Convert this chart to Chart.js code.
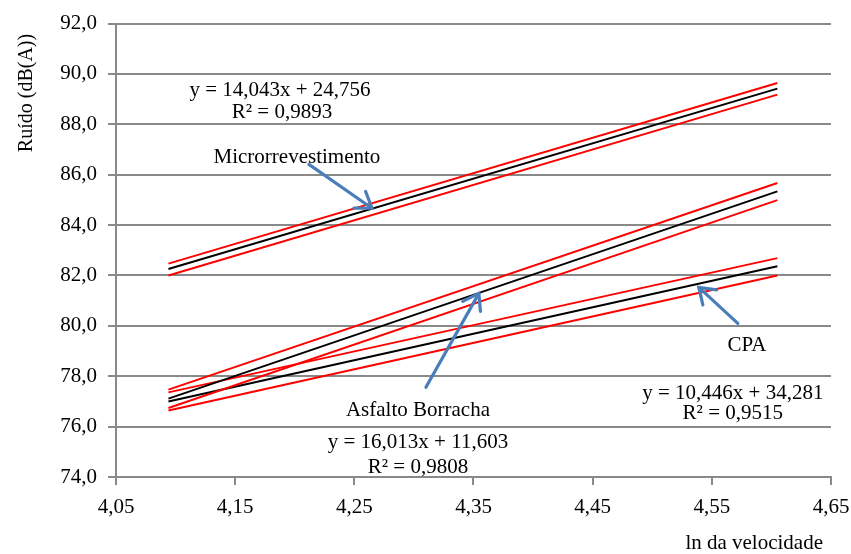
<!DOCTYPE html>
<html>
<head>
<meta charset="utf-8">
<script src="https://cdn.jsdelivr.net/npm/chart.js@4/dist/chart.umd.min.js"></script>
<style>
html,body{margin:0;padding:0;background:#fff;}
#wrap{width:851px;height:554px;}
</style>
</head>
<body>
<div id="wrap"><canvas id="c" width="851" height="554"></canvas></div>
<script>
// ---- data ----
const xEnds = [4.094, 4.605];                 // ln(60), ln(100)
const microFit   = [82.26, 89.42];
const microUpper = [82.47, 89.64];
const microLower = [82.00, 89.18];
const asfaltoFit   = [77.11, 85.34];
const asfaltoUpper = [77.47, 85.67];
const asfaltoLower = [76.74, 84.99];
const cpaFit   = [77.00, 82.37];
const cpaUpper = [77.36, 82.69];
const cpaLower = [76.64, 82.00];
const xTickValues = [4.05, 4.15, 4.25, 4.35, 4.45, 4.55, 4.65];
const yTickValues = [74, 76, 78, 80, 82, 84, 86, 88, 90, 92];
const yTitle = 'Ruído (dB(A))';
const xTitle = 'ln da velocidade';

// text annotations [text, x, y]
const labels = [
  ['y = 14,043x + 24,756', 4.1876, 89.35],
  ['R² = 0,9893', 4.1893, 88.48],
  ['Microrrevestimento', 4.2018, 86.69],
  ['Asfalto Borracha', 4.3034, 76.65],
  ['y = 16,013x + 11,603', 4.3034, 75.38],
  ['R² = 0,9808', 4.3034, 74.39],
  ['CPA', 4.5794, 79.24],
  ['y = 10,446x + 34,281', 4.5676, 77.33],
  ['R² = 0,9515', 4.5676, 76.53]
];
// arrows [x0, y0, xTip, yTip]
const arrows = [
  [4.2119, 86.41, 4.2648, 84.67],
  [4.3101, 77.56, 4.3545, 81.29],
  [4.5718, 80.10, 4.5391, 81.53]
];

const pts = ys => xEnds.map((x, i) => ({x: x, y: ys[i]}));
const FONT = 'Liberation Serif, Times New Roman, serif';
const GRID = '#898989';

function ds(ys, color) {
  return {data: pts(ys), borderColor: color, backgroundColor: color, borderWidth: 2,
          showLine: true, pointRadius: 0, fill: false, tension: 0};
}

const annot = {
  id: 'annot',
  afterDraw(chart) {
    const ctx = chart.ctx, xs = chart.scales.x, ys = chart.scales.y;
    ctx.save();
    ctx.fillStyle = '#000';
    ctx.font = '21px ' + FONT;
    ctx.textAlign = 'center';
    ctx.textBaseline = 'middle';
    labels.forEach(l => ctx.fillText(l[0], xs.getPixelForValue(l[1]), ys.getPixelForValue(l[2])));
    ctx.textAlign = 'right';
    ctx.fillText(xTitle, 823, 543);
    // axis title (y)
    ctx.save();
    ctx.font = '20px ' + FONT;
    ctx.textAlign = 'center';
    ctx.translate(27, 93);
    ctx.rotate(-Math.PI / 2);
    ctx.fillText(yTitle, 0, 0);
    ctx.restore();
    // arrows
    ctx.strokeStyle = '#4A7EBB';
    ctx.lineWidth = 3.2;
    ctx.lineCap = 'round';
    arrows.forEach(a => {
      const x0 = xs.getPixelForValue(a[0]), y0 = ys.getPixelForValue(a[1]);
      const x1 = xs.getPixelForValue(a[2]), y1 = ys.getPixelForValue(a[3]);
      ctx.beginPath(); ctx.moveTo(x0, y0); ctx.lineTo(x1, y1); ctx.stroke();
      const ang = Math.atan2(y0 - y1, x0 - x1), L = 18, d = 0.6;
      ctx.beginPath();
      ctx.moveTo(x1 + L * Math.cos(ang + d), y1 + L * Math.sin(ang + d));
      ctx.lineTo(x1, y1);
      ctx.lineTo(x1 + L * Math.cos(ang - d), y1 + L * Math.sin(ang - d));
      ctx.stroke();
    });
    ctx.restore();
  }
};

new Chart(document.getElementById('c'), {
  type: 'scatter',
  data: {
    datasets: [
      ds(microUpper, '#ff0000'), ds(microLower, '#ff0000'), ds(microFit, '#000000'),
      ds(asfaltoUpper, '#ff0000'), ds(asfaltoLower, '#ff0000'), ds(asfaltoFit, '#000000'),
      ds(cpaUpper, '#ff0000'), ds(cpaLower, '#ff0000'), ds(cpaFit, '#000000')
    ]
  },
  options: {
    responsive: false,
    animation: false,
    layout: {padding: {top: 23, right: 0, left: 0, bottom: 0}},
    plugins: {legend: {display: false}, tooltip: {enabled: false}},
    scales: {
      x: {
        type: 'linear', min: 4.05, max: 4.65,
        afterBuildTicks: s => { s.ticks = xTickValues.map(v => ({value: v})); },
        afterFit: s => { s.height = 77; s.paddingRight = 20; },
        grid: {drawOnChartArea: false, drawTicks: true, tickLength: 8, color: GRID, lineWidth: 2},
        border: {color: GRID, width: 2},
        ticks: {color: '#000', font: {family: FONT, size: 21}, padding: 10,
                callback: v => v.toFixed(2).replace('.', ',')}
      },
      y: {
        type: 'linear', min: 74, max: 92,
        afterBuildTicks: s => { s.ticks = yTickValues.map(v => ({value: v})); },
        afterFit: s => { s.width = 116; },
        grid: {drawOnChartArea: true, drawTicks: true, tickLength: 8, color: GRID, lineWidth: 2},
        border: {color: GRID, width: 2},
        ticks: {color: '#000', font: {family: FONT, size: 21}, padding: 11,
                callback: v => v.toFixed(1).replace('.', ',')}
      }
    }
  },
  plugins: [annot]
});
</script>
</body>
</html>
